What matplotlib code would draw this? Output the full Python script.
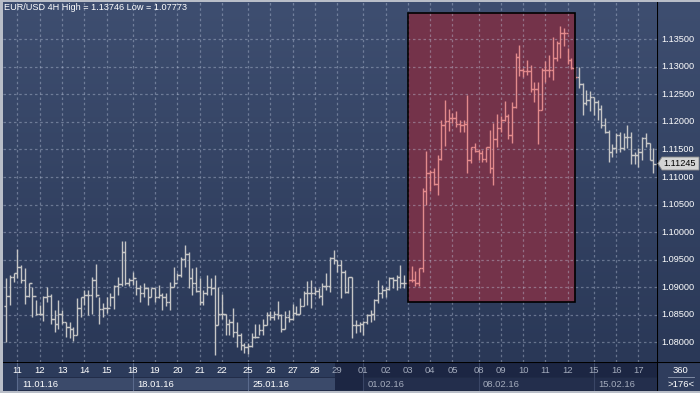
import numpy as np
import matplotlib
matplotlib.use("Agg")
import matplotlib.pyplot as plt
from matplotlib.patches import Rectangle, Polygon
from matplotlib.colors import LinearSegmentedColormap

plt.rcParams['font.family'] = ['Liberation Sans', 'DejaVu Sans']

title = "EUR/USD 4H High = 1.13746 Low = 1.07773"

high = [1.0916, 1.0922, 1.0925, 1.0969, 1.0940, 1.0934, 1.0908, 1.0901, 1.0877, 1.0868,
        1.0884, 1.0901, 1.0887, 1.0858, 1.0877, 1.0858, 1.0837, 1.0837, 1.0828, 1.0881,
        1.0883, 1.0895, 1.0895, 1.0919, 1.0943, 1.0883, 1.0871, 1.0883, 1.0889, 1.0904,
        1.0919, 1.0983, 1.0983, 1.0916, 1.0928, 1.0913, 1.0904, 1.0908, 1.0901, 1.0899,
        1.0899, 1.0904, 1.0889, 1.0889, 1.0910, 1.0937, 1.0925, 1.0955, 1.0976, 1.0964,
        1.0934, 1.0937, 1.0916, 1.0895, 1.0922, 1.0916, 1.0922, 1.0901, 1.0887, 1.0852,
        1.0843, 1.0862, 1.0837, 1.0816, 1.0798, 1.0798, 1.0816, 1.0834, 1.0834, 1.0843,
        1.0855, 1.0857, 1.0857, 1.0875, 1.0852, 1.0857, 1.0858, 1.0869, 1.0865, 1.0881,
        1.0893, 1.0911, 1.0913, 1.0901, 1.0898, 1.0907, 1.0925, 1.0955, 1.0967, 1.0949,
        1.0949, 1.0931, 1.0919, 1.0918, 1.0840, 1.0837, 1.0839, 1.0851, 1.0858, 1.0878,
        1.0913, 1.0904, 1.0901, 1.0919, 1.0919, 1.0923, 1.0940, 1.0923, 1.0930, 1.0938,
        1.0930, 1.0934, 1.1080, 1.1147, 1.1113, 1.1117, 1.1140, 1.1204, 1.1240, 1.1223,
        1.1216, 1.1219, 1.1204, 1.1204, 1.1249, 1.1155, 1.1161, 1.1150, 1.1149, 1.1155,
        1.1185, 1.1198, 1.1215, 1.1210, 1.1238, 1.1215, 1.1237, 1.1325, 1.1340, 1.1297,
        1.1313, 1.1303, 1.1273, 1.1273, 1.1297, 1.1310, 1.1322, 1.1355, 1.1346, 1.13746,
        1.1370, 1.1334, 1.1316, 1.1299, 1.1300, 1.1270, 1.1258, 1.1257, 1.1246, 1.1240,
        1.1231, 1.1208, 1.1185, 1.1160, 1.1179, 1.1182, 1.1179, 1.1195, 1.1182, 1.1146,
        1.1152, 1.1173, 1.1179, 1.1161, 1.1152]

low = [1.0801, 1.0868, 1.0910, 1.0916, 1.0907, 1.0869, 1.0883, 1.0846, 1.0849, 1.0849,
       1.0839, 1.0874, 1.0833, 1.0818, 1.0825, 1.0833, 1.0810, 1.0807, 1.0803, 1.0813,
       1.0845, 1.0868, 1.0849, 1.0851, 1.0883, 1.0833, 1.0846, 1.0854, 1.0865, 1.0860,
       1.0886, 1.0902, 1.0904, 1.0902, 1.0904, 1.0886, 1.0874, 1.0883, 1.0868, 1.0883,
       1.0874, 1.0881, 1.0858, 1.0865, 1.0858, 1.0901, 1.0913, 1.0919, 1.0937, 1.0898,
       1.0886, 1.0892, 1.0868, 1.0868, 1.0886, 1.0886, 1.07773, 1.0831, 1.0843, 1.0813,
       1.0813, 1.0810, 1.0792, 1.0786, 1.0781, 1.0779, 1.0792, 1.0807, 1.0813, 1.0813,
       1.0831, 1.0840, 1.0840, 1.0843, 1.0818, 1.0824, 1.0836, 1.0840, 1.0849, 1.0851,
       1.0865, 1.0868, 1.0862, 1.0886, 1.0880, 1.0868, 1.0895, 1.0892, 1.0943, 1.0928,
       1.0881, 1.0889, 1.0889, 1.0808, 1.0816, 1.0819, 1.0813, 1.0833, 1.0837, 1.0840,
       1.0871, 1.0880, 1.0883, 1.0895, 1.0898, 1.0895, 1.0898, 1.0898, 1.0905, 1.0910,
       1.0903, 1.0903, 1.0927, 1.1049, 1.1074, 1.1086, 1.1068, 1.1131, 1.1156, 1.1184,
       1.1198, 1.1190, 1.1182, 1.1182, 1.1107, 1.1125, 1.1146, 1.1131, 1.1128, 1.1128,
       1.1108, 1.1086, 1.1155, 1.1182, 1.1201, 1.1169, 1.1162, 1.1225, 1.1283, 1.1282,
       1.1285, 1.1255, 1.1237, 1.1160, 1.1222, 1.1273, 1.1282, 1.1276, 1.1311, 1.1316,
       1.1337, 1.1306, 1.1296, 1.1278, 1.1261, 1.1213, 1.1231, 1.1219, 1.1213, 1.1204,
       1.1189, 1.1179, 1.1128, 1.1136, 1.1143, 1.1146, 1.1149, 1.1152, 1.1124, 1.1124,
       1.1119, 1.1131, 1.1155, 1.1131, 1.1107]

close = [1.0884, 1.0918, 1.0925, 1.0937, 1.0913, 1.0884, 1.0907, 1.0884, 1.0851, 1.0851,
         1.0883, 1.0884, 1.0842, 1.0834, 1.0852, 1.0836, 1.0827, 1.0825, 1.0813, 1.0862,
         1.0883, 1.0886, 1.0886, 1.0913, 1.0886, 1.0860, 1.0863, 1.0863, 1.0883, 1.0902,
         1.0905, 1.0963, 1.0907, 1.0913, 1.0916, 1.0898, 1.0889, 1.0898, 1.0883, 1.0898,
         1.0883, 1.0886, 1.0883, 1.0874, 1.0901, 1.0907, 1.0922, 1.0952, 1.0961, 1.0916,
         1.0907, 1.0893, 1.0874, 1.0889, 1.0901, 1.0898, 1.0831, 1.0852, 1.0852, 1.0833,
         1.0837, 1.0818, 1.0813, 1.0795, 1.0792, 1.0794, 1.0810, 1.0810, 1.0822, 1.0831,
         1.0849, 1.0846, 1.0852, 1.0849, 1.0825, 1.0845, 1.0843, 1.0854, 1.0852, 1.0865,
         1.0889, 1.0889, 1.0889, 1.0893, 1.0884, 1.0902, 1.0902, 1.0953, 1.0950, 1.0940,
         1.0928, 1.0892, 1.0918, 1.0831, 1.0831, 1.0834, 1.0837, 1.0849, 1.0851, 1.0877,
         1.0889, 1.0895, 1.0896, 1.0916, 1.0913, 1.0919, 1.0907, 1.0907, 1.0913, 1.0913,
         1.0907, 1.0934, 1.1074, 1.1107, 1.1110, 1.1087, 1.1132, 1.1195, 1.1201, 1.1207,
         1.1207, 1.1196, 1.1195, 1.1196, 1.1131, 1.1154, 1.1148, 1.1143, 1.1132, 1.1154,
         1.1116, 1.1169, 1.1189, 1.1204, 1.1210, 1.1176, 1.1228, 1.1317, 1.1294, 1.1293,
         1.1293, 1.1259, 1.1259, 1.1222, 1.1294, 1.1294, 1.1294, 1.1316, 1.1344, 1.1362,
         1.1362, 1.1313, 1.1297, 1.1281, 1.1269, 1.1234, 1.1240, 1.1246, 1.1237, 1.1223,
         1.1195, 1.1181, 1.1146, 1.1153, 1.1176, 1.1153, 1.1173, 1.1173, 1.1140, 1.1140,
         1.1146, 1.1170, 1.1162, 1.1131, 1.11245]

first_open = 1.0866
last_price = 1.11245

price_ticks = [1.080, 1.085, 1.090, 1.095, 1.100, 1.105, 1.110, 1.115, 1.120, 1.125, 1.130, 1.135]

day_labels = ['11', '12', '13', '14', '15', '18', '19', '20', '21', '22',
              '25', '26', '27', '28', '29', '01', '02', '03', '04', '05',
              '08', '09', '10', '11', '12', '15', '16', '17']
day_pos = [3, 9, 15, 21, 27, 34, 40, 46, 52, 58,
           65, 71, 77, 83, 89, 96, 102, 108, 114, 120,
           127, 133, 139, 145, 151, 158, 164, 170]
week_labels = ['11.01.16', '18.01.16', '25.01.16', '01.02.16', '08.02.16', '15.02.16']
week_pos = [3, 34, 65, 96, 127, 158]

box_start, box_end = 108, 153
box_low, box_high = 1.0873, 1.1397
scroll_end = 88.4

corner_top = '360'
corner_bottom = '>176<'

n = len(close)
idx = np.arange(n)
opens = [first_open] + close[:-1]

W, H = 700, 393
fig = plt.figure(figsize=(W / 100, H / 100), dpi=100)
fig.patch.set_facecolor('#b9bec8')

XLIM = (-0.89, 175.0)
YLIM = (1.07642, 1.14177)

grad = LinearSegmentedColormap.from_list('bg', ['#2a3857', '#3e4e70'])
gimg = np.linspace(0, 1, 256).reshape(-1, 1)

# right price panel
axr = fig.add_axes([657 / W, 31 / H, 43 / W, 360 / H])
axr.imshow(gimg, cmap=grad, aspect='auto', extent=[0, 1, 0, 1], origin='lower',
           transform=axr.transAxes, zorder=0)
axr.set_xlim(0, 43)
axr.set_ylim(*YLIM)
axr.axis('off')
axr.axvline(0.3, color='black', lw=1.5)
for p in price_ticks:
    axr.text(4, p, f'{p:.5f}', va='center', ha='left', color='white', fontsize=6.6)
h = 0.00118
axr.add_patch(Polygon([(0.8, last_price), (5, last_price + h), (42, last_price + h),
                       (42, last_price - h), (5, last_price - h)], closed=True,
                      facecolor='#d4d4d4', edgecolor='#8a8a8a', lw=0.6, zorder=3))
axr.text(6, last_price, f'{last_price:.5f}', va='center', ha='left', color='black',
         fontsize=6.6, zorder=4)

# main chart
ax = fig.add_axes([3 / W, 31 / H, 654 / W, 360 / H])
ax.imshow(gimg, cmap=grad, aspect='auto', extent=[0, 1, 0, 1], origin='lower',
          transform=ax.transAxes, zorder=0)
ax.set_xlim(*XLIM)
ax.set_ylim(*YLIM)
ax.set_xticks([])
ax.set_yticks([])
for s in ax.spines.values():
    s.set_visible(False)

ax.add_patch(Rectangle((box_start, box_low), box_end - box_start, box_high - box_low,
                       facecolor='#74334a', edgecolor='none', zorder=1))

for p in price_ticks:
    ax.axhline(p, color='#c8d2e6', alpha=0.38, lw=0.9, ls=(0, (2, 2.2)), zorder=2)
for d in day_pos:
    ax.axvline(d, color='#c8d2e6', alpha=0.38, lw=0.9, ls=(0, (2, 2.2)), zorder=2)

colors = ['#e38a8c' if box_start <= i <= box_end else '#c6c6c6' for i in idx]
ax.vlines(idx, low, high, colors=colors, lw=1.0, zorder=3)
ax.hlines(opens, idx - 0.6, idx, colors=colors, lw=1.0, zorder=3)
ax.hlines(close, idx, idx + 0.6, colors=colors, lw=1.0, zorder=3)

ax.add_patch(Rectangle((box_start, box_low), box_end - box_start, box_high - box_low,
                       facecolor='none', edgecolor='black', lw=1.2, zorder=4))

fig.text(4 / W, 1 - 8 / H, title, va='center', ha='left', color='white', fontsize=6.6)

# bottom time axis
axb = fig.add_axes([3 / W, 2 / H, 654 / W, 29 / H])
axb.set_xlim(*XLIM)
axb.set_ylim(0, 2)
axb.axis('off')
axb.add_patch(Rectangle((XLIM[0], 0), scroll_end - XLIM[0], 2, facecolor='#2c3b5b',
                        edgecolor='none', zorder=0))
axb.add_patch(Rectangle((scroll_end, 0), XLIM[1] - scroll_end, 2, facecolor='#1c2643',
                        edgecolor='none', zorder=0))
week_ends = week_pos[1:] + [XLIM[1]]
for wp, we, wl in zip(week_pos, week_ends, week_labels):
    left_side = wp < scroll_end
    fc = '#3b4a6a' if left_side else '#232e4c'
    axb.add_patch(Rectangle((wp, 0.05), we - wp, 0.9, facecolor=fc,
                            edgecolor='#1f2a45', lw=0.6, zorder=1))
    axb.plot([wp, wp], [0.05, 2], color='#5a6a8c' if left_side else '#3a4666',
             lw=0.8, zorder=2)
    axb.text(wp + 1.2, 0.48, wl, va='center', ha='left', fontsize=6.8,
             color='white' if left_side else '#a3abbc', zorder=3)
axb.add_patch(Rectangle((scroll_end, 0.05), week_pos[3] - scroll_end, 0.9,
                        facecolor='#1c2643', edgecolor='none', zorder=1.5))
for dp, dl in zip(day_pos, day_labels):
    axb.text(dp, 1.42, dl, va='center', ha='center', fontsize=6.8,
             color='white' if dp < scroll_end else '#a3abbc', zorder=3)
axb.axhline(2, color='black', lw=1.5, zorder=4)

# corner panel
axc = fig.add_axes([657 / W, 2 / H, 43 / W, 29 / H])
axc.set_xlim(0, 1)
axc.set_ylim(0, 2)
axc.axis('off')
axc.add_patch(Rectangle((0, 0), 1, 2, facecolor='#2f3d5d', edgecolor='none'))
axc.axvline(0.007, color='black', lw=1.5)
axc.axhline(2, color='black', lw=1.5)
axc.plot([0.25, 0.85], [1.0, 1.0], color='#8a96ae', lw=0.6)
axc.text(0.55, 1.42, corner_top, ha='center', va='center', color='white', fontsize=6.8)
axc.text(0.55, 0.48, corner_bottom, ha='center', va='center', color='white', fontsize=6.8)

fig.savefig('out.png', dpi=100, facecolor=fig.get_facecolor())
